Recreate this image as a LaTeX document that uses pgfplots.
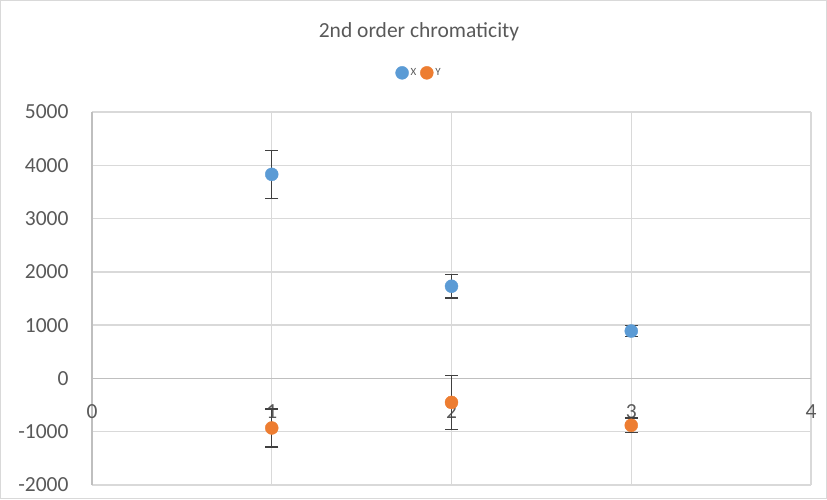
\documentclass[border=0pt]{standalone}
\usepackage{pgfplots}
\pgfplotsset{compat=1.18}
\usepackage{fontspec}
\setmainfont{Carlito}
\definecolor{xblue}{HTML}{5B9BD5}
\definecolor{yorange}{HTML}{ED7D31}
\definecolor{gridc}{HTML}{D9D9D9}
\definecolor{axc}{HTML}{BFBFBF}
\definecolor{txt}{HTML}{595959}
\definecolor{errc}{HTML}{404040}
\begin{document}
\begin{tikzpicture}[x=1pt,y=1pt]
\draw[draw=gridc, line width=1pt] (0.5,0.5) rectangle (826.5,498.5);
\node[font=\fontsize{21.5}{24}\selectfont, text=txt] at (419,467) {2nd order chromaticity};
\begin{axis}[
  at={(92pt,14pt)}, anchor=south west,
  scale only axis, width=719pt, height=373pt,
  xmin=0, xmax=4, ymin=-2000, ymax=5000,
  axis x line=middle, axis y line=left,
  axis line style={-, draw=axc, line width=1.3pt},
  hide obscured x ticks=false,
  xtick={0,1,2,3,4}, xticklabels={0,1,2,3,4},
  ytick={-2000,-1000,0,1000,2000,3000,4000,5000},
  yticklabels={-2000,-1000,0,1000,2000,3000,4000,5000},
  major tick length=0pt,
  grid=major, grid style={draw=gridc, line width=1.4pt},
  ticklabel style={font=\fontsize{21.5}{24}\selectfont, text=txt},
  xticklabel style={anchor=center, yshift=-33pt},
  yticklabel style={anchor=east, xshift=-20pt},
  legend columns=2,
  legend style={at={(0.455,1.105)}, anchor=center, draw=none, fill=none,
    font=\fontsize{11}{13}\selectfont, text=txt,
    /tikz/every even column/.append style={column sep=2pt}},
  legend image code/.code={\draw[#1] plot coordinates {(0pt,0pt)};},
  error bars/error bar style={draw=errc, line width=1.4pt},
  error bars/error mark options={draw=errc, line width=1.4pt, mark size=6.5pt, rotate=90},
]
\addplot+[only marks, mark=*, mark size=6.5pt, color=xblue, mark options={fill=xblue, draw=xblue},
  error bars/.cd, y dir=both, y explicit]
  table[x=x, y=y, y error=e] {
x y e
1 3830 450
2 1730 220
3 890 100
};
\addlegendentry{X}
\addplot+[only marks, mark=*, mark size=6.5pt, color=yorange, mark options={fill=yorange, draw=yorange},
  error bars/.cd, y dir=both, y explicit]
  table[x=x, y=y, y error=e] {
x y e
1 -930 355
2 -450 510
3 -880 140
};
\addlegendentry{Y}
\end{axis}
\end{tikzpicture}
\end{document}
